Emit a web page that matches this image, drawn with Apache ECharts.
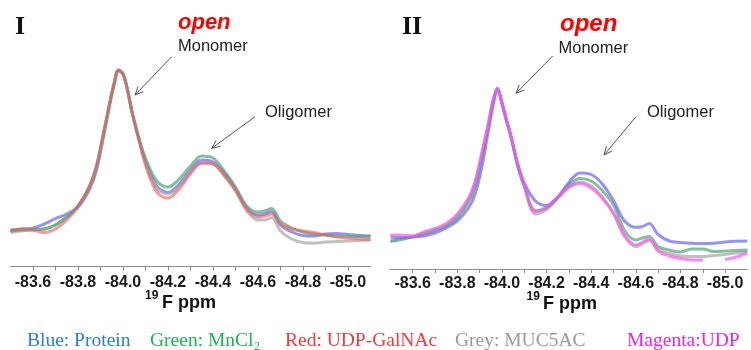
<!DOCTYPE html>
<html><head><meta charset="utf-8">
<script src="https://cdn.jsdelivr.net/npm/echarts@6/dist/echarts.min.js"></script>
<style>html,body{margin:0;padding:0;background:#fff}#c{width:751px;height:350px}</style>
</head><body><div id="c"></div>
<script>
// chemical shift grid (ppm)
const ppm = [-83.50,-83.55,-83.60,-83.65,-83.70,-83.75,-83.80,-83.85,-83.88,-83.91,-83.94,-83.96,-83.98,-84.00,-84.02,-84.04,-84.07,-84.10,-84.15,-84.20,-84.25,-84.30,-84.35,-84.40,-84.45,-84.50,-84.55,-84.60,-84.63,-84.66,-84.70,-84.75,-84.80,-84.85,-84.90,-84.95,-85.00,-85.05,-85.10];
// Panel I intensities (a.u.)
const p1Blue  = [36.5,37.5,38.5,42.5,48,52.5,59.5,76.5,94.5,125.5,160.5,181.5,195.5,192.5,176.5,154.5,128.5,105.5,80.5,74,82.5,96.5,106.5,104.5,93.5,77.5,58.5,51.5,52.5,55,41.5,34.5,31,30.5,32.5,33,32,31,30.5];
const p1Green = [35.5,36.5,37,37.5,41.5,49.5,60.5,79.5,98.5,129.5,162.5,182.5,196.5,192.5,176.5,154.5,128.5,108.5,85.5,79.5,87.5,100.5,110.5,108.5,95.5,79.5,60.5,54.5,55.5,58,45.5,38.5,34.5,32.5,31.5,30.5,30,30,30];
const p1Red   = [35.5,37.5,36.5,34,37.5,46.5,59.5,79.5,98.5,129.5,162.5,182.5,196.5,192.5,176.5,154.5,127.5,101.5,74.5,68.5,77.5,93,103.5,102.5,91.5,76.5,57.5,49.5,50.5,52.5,42.5,37.5,35.5,34,31.5,29.5,28.5,27.5,27];
const p1Grey  = [34,35.5,36.5,37.5,41.5,49.5,60.5,79.5,98.5,129.5,162.5,182.5,196.5,192.5,176.5,154.5,127.5,103.5,78.5,72.5,80.5,94,103.5,102.5,90.5,75.5,55.5,46.5,46.5,49,35.5,27.5,24,23.5,24.5,25,25.5,26,26.5];
// Panel II intensities (a.u.)
const p2Blue    = [32,31.5,32.3,33,36,41,48,61,75,102,139,163,179,166,149,133,106,86,68,63.5,72,86.5,96,94.5,85,68.5,48,41.7,42.5,45.5,34.5,28,26.5,25.7,25.5,25.7,27,27.8,28];
const p2Green   = [27.5,29.5,32,35,38.5,43,51,67,83,111,144,167,181,166,149,133,104,83,58.5,61,71.5,84,90.5,88,78.5,64,38.5,29,31,32.5,22.5,19,17,20,20,17.5,18,18.5,19];
const p2Grey    = [28.5,30.5,32.5,36,39.5,44,53,69,86,114,146,168,180.5,166,149,133,104,83,55,59.5,70.5,81.5,87,83,72,55,32,22.5,25,28.5,19.5,15.5,13,12.5,12.5,13.5,14.5,16,17.5];
const p2Magenta = [34,34,33,37,40.5,45.5,55,71,88,117,147,169,180.5,166,149,133,104,83,57.5,62,72,82,85.5,81,70.5,56,34,24,27,30,18,13,10.5,9,9,null,9.5,12,16];

const legendItems = ['Blue: Protein','Green: MnCl₂','Red: UDP-GalNAc','Grey: MUC5AC','Magenta:UDP'];

const COL = {blue:'#6b6bf2', green:'#55a77a', red:'#f05c5c', grey:'#a8a8a8', magenta:'#ff5ced'};

function pairs(arr){ return ppm.map((x,i)=>[x, arr[i]==null ? '-' : arr[i]]); }
function ser(arr, color, idx, op){
  return {type:'line', xAxisIndex:idx, yAxisIndex:idx, data:pairs(arr), showSymbol:false, smooth:0.35,
    connectNulls:false, silent:true, lineStyle:{color:color, width:3, opacity:op||0.72}};
}
function xAx(idx, margin){
  return {gridIndex:idx, type:'value', min:-85.1, max:-83.5, interval:0.1, inverse:true,
    axisLine:{lineStyle:{color:'#8c8c8c', width:1}},
    axisTick:{show:true, length:4, lineStyle:{color:'#8c8c8c'}},
    splitLine:{show:false},
    axisLabel:{margin:margin, color:'#1a1a1a', fontSize:16, fontWeight:'bold', fontFamily:'Liberation Sans',
      showMinLabel:false, showMaxLabel:false,
      formatter:function(v){ const k=Math.round(v*10); return (k%2===0) ? (k/10).toFixed(1) : ''; }}};
}
function yAx(idx, max){ return {gridIndex:idx, type:'value', min:0, max:max, show:false}; }

function arrow(x1,y1,x2,y2){
  const a=Math.atan2(y2-y1,x2-x1), L=9, w=0.42;
  return [
    {type:'line', shape:{x1:x1,y1:y1,x2:x2,y2:y2}, style:{stroke:'#555', lineWidth:1}},
    {type:'polyline', shape:{points:[[x2-L*Math.cos(a-w), y2-L*Math.sin(a-w)],[x2,y2],[x2-L*Math.cos(a+w), y2-L*Math.sin(a+w)]]}, style:{stroke:'#555', fill:null, lineWidth:1}}
  ];
}
function txt(x,y,text,font,fill){
  return {type:'text', x:x, y:y, style:{text:text, font:font, fill:fill, align:'left', verticalAlign:'middle'}};
}
const SANS='"Liberation Sans", Arial, sans-serif', SERIF='"Liberation Serif", "Times New Roman", serif';
const legendColors=['#2a7dd1','#22b04e','#f03a3a','#999999','#ee22dd'];
const legendX=[27,150,285,455,627];

const graphic = [].concat(
  [txt(15,27,'I','bold 26px '+SERIF,'#111'), txt(402,27,'II','bold 26px '+SERIF,'#111'),
   txt(178,23,'open','italic bold 22px '+SANS,'#ff0000'), txt(560,24,'open','italic bold 24px '+SANS,'#ff0000'),
   txt(178,46.5,'Monomer','16.5px '+SANS,'#222'), txt(558.5,48,'Monomer','16.5px '+SANS,'#222'),
   txt(265,112.5,'Oligomer','16.5px '+SANS,'#222'), txt(647,112.5,'Oligomer','16.5px '+SANS,'#222'),
   txt(145,296,'19','bold 12px '+SANS,'#111'), txt(162,303,'F ppm','bold 18px '+SANS,'#111'),
   txt(526.5,297,'19','bold 12px '+SANS,'#111'), txt(543,304,'F ppm','bold 18px '+SANS,'#111')],
  arrow(171.7,56.7,135,95), arrow(255,116.7,211.7,148.3),
  arrow(552.7,56,516,93.3), arrow(636,116.7,604,155),
  legendItems.map((t,i)=>txt(legendX[i],341,t,'19.5px '+SERIF,legendColors[i]))
);

const chart = echarts.init(document.getElementById('c'), null, {renderer:'canvas'});
chart.setOption({
  animation:false,
  backgroundColor:'#ffffff',
  grid:[{left:10.5, top:60, width:360, height:206.5},{left:390.35, top:60, width:362.4, height:209}],
  xAxis:[xAx(0,8), xAx(1,7)],
  yAxis:[yAx(0,206.5), yAx(1,209)],
  series:[
    ser(p1Blue,COL.blue,0), ser(p1Grey,COL.grey,0), ser(p1Green,COL.green,0), ser(p1Red,COL.red,0,0.62),
    ser(p2Grey,COL.grey,1), ser(p2Green,COL.green,1), ser(p2Blue,COL.blue,1), ser(p2Magenta,COL.magenta,1)
  ],
  graphic:graphic
});
</script></body></html>
